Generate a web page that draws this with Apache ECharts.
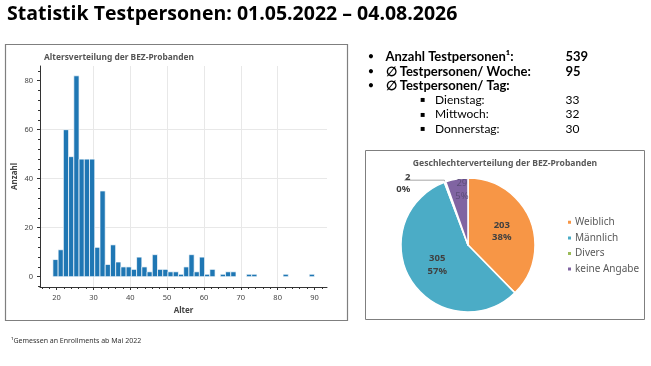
<!DOCTYPE html>
<html><head><meta charset="utf-8">
<script src="https://cdn.jsdelivr.net/npm/echarts@6/dist/echarts.min.js"></script>
<style>html,body{margin:0;padding:0;background:#fff}#c{width:651px;height:366px}</style>
</head><body><div id="c"></div>
<script>
// Histogram: bin edges (50 bins, 19..90) and counts per bin
const ageBinEdges = [19.00,20.42,21.84,23.26,24.68,26.10,27.52,28.94,30.36,31.78,33.20,34.62,36.04,37.46,38.88,40.30,41.72,43.14,44.56,45.98,47.40,48.82,50.24,51.66,53.08,54.50,55.92,57.34,58.76,60.18,61.60,63.02,64.44,65.86,67.28,68.70,70.12,71.54,72.96,74.38,75.80,77.22,78.64,80.06,81.48,82.90,84.32,85.74,87.16,88.58,90.00];
const ageCounts = [7,11,60,49,82,48,48,48,12,35,5,13,6,4,4,3,8,4,2,9,3,3,2,2,1,4,9,2,8,1,3,0,1,2,2,0,0,1,1,0,0,0,0,0,1,0,0,0,0,1];
const xMajorTicks = [20,30,40,50,60,70,80,90];
const xMinorTicks = [16,18,22,24,26,28,32,34,36,38,42,44,46,48,52,54,56,58,62,64,66,68,72,74,76,78,82,84,86,88,92];
const yMajorTicks = [0,20,40,60,80];
const yMinorTicks = [-4,4,8,12,16,24,28,32,36,44,48,52,56,64,68,72,76,84];

// Pie
const genderNames = ['Weiblich','Männlich','Divers','keine Angabe'];
const genderValues = [203,305,2,29];
const genderColors = ['#F79646','#4BACC6','#9BBB59','#8064A2'];

// Key figures
const statRows = [
  ['Anzahl Testpersonen¹:', '539'],
  ['∅ Testpersonen/ Woche:', '95'],
  ['∅ Testpersonen/ Tag:', '']
];
const dayRows = [['Dienstag:', '33'], ['Mittwoch:', '32'], ['Donnerstag:', '30']];

const chart = echarts.init(document.getElementById('c'), null, {renderer:'canvas'});

const TXT = '#444';
const FONT = 'Noto Sans';
function T(x, y, text, font, fill, align) {
  return {type:'text', x:x, y:y, silent:true,
    style:{text:text, font:font, fill:fill || '#000', align:align || 'left', verticalAlign:'middle'}};
}
const graphics = [
  T(7, 14, 'Statistik Testpersonen: 01.05.2022 – 04.08.2026', 'bold 19.5px "Open Sans"', '#000'),
  {type:'rect', shape:{x:5.5, y:44.5, width:342, height:276}, style:{fill:'none', stroke:'#7f7f7f', lineWidth:1.2}, silent:true},
  {type:'rect', shape:{x:365.5, y:150.5, width:279, height:169}, style:{fill:'none', stroke:'#7f7f7f', lineWidth:1}, silent:true},
  T(44, 57.5, 'Altersverteilung der BEZ-Probanden', 'bold 8.4px "Noto Sans"', '#555'),
  T(505, 164, 'Geschlechterverteilung der BEZ-Probanden', 'bold 8.6px "Noto Sans"', '#595959', 'center'),
  T(11, 341, '¹Gemessen an Enrollments ab Mai 2022', '7px "Noto Sans"', '#333')
];
const rowY = [56.5, 71.5, 85.5];
statRows.forEach((r, i) => {
  graphics.push(T(371, rowY[i], '•', '11px Lato', '#000', 'center'));
  graphics.push(T(385.5, rowY[i], r[0], 'bold 13px Lato', '#000'));
  if (r[1]) graphics.push(T(565.5, rowY[i], r[1], 'bold 13px Lato', '#000'));
});
const dayY = [100, 114.5, 129];
dayRows.forEach((r, i) => {
  graphics.push(T(422.5, dayY[i], '▪', '8px "DejaVu Sans"', '#000', 'center'));
  graphics.push(T(435, dayY[i], r[0], '12px Lato', '#000'));
  graphics.push(T(565.5, dayY[i], r[1], '12px Lato', '#000'));
});

const axisLineStyle = {color:'#333', width:1};
const option = {
  animation:false,
  textStyle:{fontFamily:FONT},
  graphic: graphics,
  grid:[{left:40, top:66, width:287, height:221, containLabel:false}],
  xAxis:[
    {type:'value', gridIndex:0, min:15.5, max:93.4, splitNumber:8, position:'bottom',
     name:'Alter', nameLocation:'middle', nameGap:19,
     nameTextStyle:{fontSize:8, fontWeight:'bold', color:TXT, fontFamily:FONT},
     axisLine:{show:true, onZero:false, lineStyle:axisLineStyle},
     axisTick:{show:true, length:3, customValues:xMajorTicks, lineStyle:axisLineStyle},
     axisLabel:{customValues:xMajorTicks, fontSize:7.5, color:TXT, margin:7, fontFamily:FONT},
     splitLine:{show:true, showMinLine:false, showMaxLine:false, lineStyle:{color:'#e8e8e8', width:1}}},
    {type:'value', gridIndex:0, min:15.5, max:93.4, position:'bottom',
     axisLine:{show:false, onZero:false},
     axisTick:{show:true, length:2, customValues:xMinorTicks, lineStyle:axisLineStyle},
     axisLabel:{show:false}, splitLine:{show:false}}
  ],
  yAxis:[
    {type:'value', gridIndex:0, min:-4.2, max:86, splitNumber:5, position:'left',
     name:'Anzahl', nameLocation:'middle', nameGap:21, nameRotate:90,
     nameTextStyle:{fontSize:8, fontWeight:'bold', color:TXT, fontFamily:FONT},
     axisLine:{show:true, onZero:false, lineStyle:axisLineStyle},
     axisTick:{show:true, length:3, customValues:yMajorTicks, lineStyle:axisLineStyle},
     axisLabel:{customValues:yMajorTicks, fontSize:7.5, color:TXT, margin:7, fontFamily:FONT},
     splitLine:{show:true, showMinLine:false, showMaxLine:false, lineStyle:{color:'#e8e8e8', width:1}}},
    {type:'value', gridIndex:0, min:-4.2, max:86, position:'left',
     axisLine:{show:false, onZero:false},
     axisTick:{show:true, length:2, customValues:yMinorTicks, lineStyle:axisLineStyle},
     axisLabel:{show:false}, splitLine:{show:false}}
  ],
  legend:{
    data: genderNames, orient:'vertical', left:561, top:211,
    icon:'rect', itemWidth:5, itemHeight:5, itemGap:3,
    textStyle:{fontSize:10, color:'#595959', fontFamily:FONT, padding:[0,0,0,-2], lineHeight:12.6},
    selectedMode:false
  },
  series:[
    {type:'custom', xAxisIndex:0, yAxisIndex:0, silent:true,
     data: ageCounts.map((c, i) => [ageBinEdges[i], ageBinEdges[i+1], c]).filter(d => d[2] > 0),
     encode:{x:[0,1], y:2},
     renderItem: function(params, api) {
       const p0 = api.coord([api.value(0), api.value(2)]);
       const p1 = api.coord([api.value(1), 0]);
       return {type:'rect', shape:{x:p0[0], y:p0[1], width:p1[0]-p0[0], height:p1[1]-p0[1]},
               style:{fill:'#1f77b4', stroke:'#ffffff', lineWidth:0.7}};
     }},
    {type:'pie', center:[468,245], radius:67, startAngle:90, clockwise:true,
     percentPrecision:0, avoidLabelOverlap:false, silent:true,
     itemStyle:{borderColor:'#fff', borderWidth:1.5},
     label:{position:'inside', formatter: p => p.value + '\n' + Math.round(p.percent) + '%',
            fontSize:9.5, fontWeight:'bold', color:'#404040', lineHeight:12.5, fontFamily:FONT},
     labelLine:{show:false},
     data: genderNames.map((n, i) => {
       const d = {name:n, value:genderValues[i], itemStyle:{color:genderColors[i]}};
       if (n === 'Divers') {
         d.label = {position:'outside', color:'#404040', distanceToLabelLine:-12, lineHeight:11.5, offset:[-6,3]};
         d.labelLine = {show:true, length:2, length2:40, lineStyle:{color:'#a6a6a6', width:1}};
       }
       if (n === 'keine Angabe') {
         d.label = {offset:[0,-19], color:'#5c4d78', fontWeight:'normal'};
       }
       return d;
     })}
  ]
};
chart.setOption(option);
</script>
</body></html>
